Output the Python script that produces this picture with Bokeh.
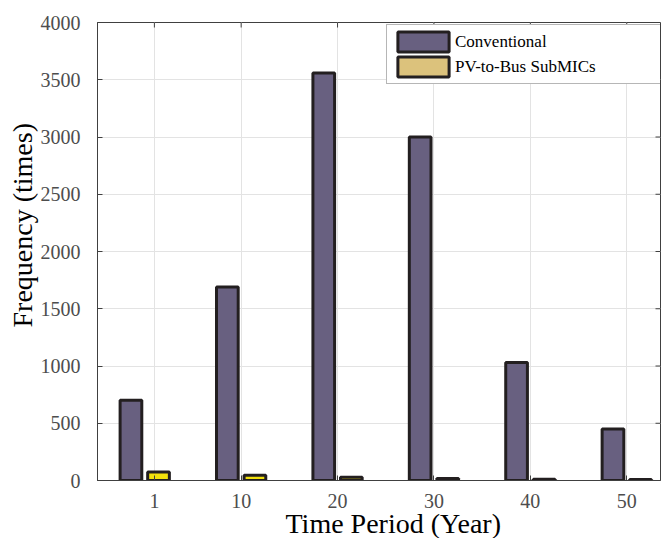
from bokeh.plotting import figure
from bokeh.models import (ColumnDataSource, FixedTicker, Range1d,
                          Legend, LegendItem, Title)
from bokeh.transform import dodge
from bokeh.embed import file_html
from bokeh.resources import INLINE

# ---- data ----
year_labels = ["1", "10", "20", "30", "40", "50"]
tick_positions = [1, 10, 20, 30, 40, 50]
group_positions = [0, 10, 20, 30, 40, 50]
conventional = [700, 1690, 3560, 3000, 1030, 450]
pv_to_bus = [75, 45, 28, 18, 12, 8]
y_tick_values = [0, 500, 1000, 1500, 2000, 2500, 3000, 3500, 4000]
series_names = ["Conventional", "PV-to-Bus SubMICs"]
x_title = "Time Period (Year)"
y_title = "Frequency (times)"

FONT = "Liberation Serif"
EDGE = "#231f20"
CONV_FILL = "#686080"
PV_FILL = "#f3e10c"
PV_LEGEND_FILL = "#dcc27c"
AXIS_COL = "#404040"
TICK_TEXT = "#4d4d4d"
GRID_COL = "#e3e3e3"

X0, X1 = -4.9, 53.5
Y0, Y1 = 0, 4000
W, H = 665, 538
ML, MT, MR, MB = 97, 22, 5, 58
FRAME_W, FRAME_H = W - ML - MR, H - MT - MB
TICK_PX = 5
XPP = (X1 - X0) / FRAME_W   # data units per pixel, x
YPP = (Y1 - Y0) / FRAME_H   # data units per pixel, y

src = ColumnDataSource(dict(x=group_positions, conv=conventional, pv=pv_to_bus))

p = figure(width=W, height=H, output_backend="svg", toolbar_location=None,
           x_range=Range1d(X0, X1), y_range=Range1d(Y0, Y1),
           min_border_left=ML, min_border_top=MT, min_border_right=MR,
           min_border_bottom=MB)
p.background_fill_color = "white"
p.border_fill_color = "white"
p.outline_line_color = AXIS_COL
p.outline_line_width = 1

# grid
p.xgrid.ticker = FixedTicker(ticks=tick_positions)
p.ygrid.ticker = FixedTicker(ticks=y_tick_values)
for g in (p.xgrid[0], p.ygrid[0]):
    g.grid_line_color = GRID_COL
    g.grid_line_width = 1

# mirrored ticks on top and right edges of the box
p.segment(x0=tick_positions, x1=tick_positions,
          y0=[Y1] * len(tick_positions), y1=[Y1 - TICK_PX * YPP] * len(tick_positions),
          line_color=AXIS_COL, line_width=1)
p.segment(x0=[X1] * len(y_tick_values), x1=[X1 - TICK_PX * XPP] * len(y_tick_values),
          y0=y_tick_values, y1=y_tick_values,
          line_color=AXIS_COL, line_width=1)

r_conv = p.vbar(x=dodge("x", -1.43, range=p.x_range), top="conv", width=2.25,
                bottom=0, source=src, fill_color=CONV_FILL, line_color=EDGE,
                line_width=3)
r_pv = p.vbar(x=dodge("x", 1.43, range=p.x_range), top="pv", width=2.25,
              bottom=0, source=src, fill_color=PV_FILL, line_color=EDGE,
              line_width=3)
# legend-only swatch for the second series (placed outside the visible range)
r_pv_leg = p.vbar(x=[X0 - 100], top=[0], width=1, fill_color=PV_LEGEND_FILL,
                  line_color=EDGE, line_width=3)

# axes
xa = p.xaxis[0]
xa.ticker = FixedTicker(ticks=tick_positions)
xa.major_label_overrides = {t: l for t, l in zip(tick_positions, year_labels)}
ya = p.yaxis[0]
ya.ticker = FixedTicker(ticks=y_tick_values)

for ax in (xa, ya):
    ax.axis_line_color = AXIS_COL
    ax.major_tick_line_color = AXIS_COL
    ax.major_tick_in = TICK_PX
    ax.major_tick_out = 0
    ax.minor_tick_line_color = None
    ax.major_label_text_font = FONT
    ax.major_label_text_font_size = "20px"
    ax.major_label_text_color = TICK_TEXT
xa.major_label_standoff = 13
ya.major_label_standoff = 17

# axis titles as side-panel titles (start-aligned, offset like the reference)
t_x = Title(text=x_title, align="left", offset=188, standoff=-10,
            text_font=FONT, text_font_size="28px", text_font_style="normal",
            text_color="black")
p.add_layout(t_x, "below")
t_y = Title(text=y_title, align="left", offset=153, standoff=0,
            text_font=FONT, text_font_size="28px", text_font_style="normal",
            text_color="black")
p.add_layout(t_y, "left")

legend = Legend(items=[LegendItem(label=series_names[0], renderers=[r_conv]),
                       LegendItem(label=series_names[1], renderers=[r_pv_leg])],
                location=(289, 396))
legend.label_text_font = FONT
legend.label_text_font_size = "17px"
legend.label_text_color = "black"
legend.glyph_width = 64
legend.glyph_height = 25
legend.label_height = 25
legend.label_width = 202
legend.label_standoff = -1
legend.padding = 4
legend.spacing = -1
legend.margin = 0
legend.border_line_color = "#6e6e6e"
legend.border_line_width = 1
legend.background_fill_color = "white"
legend.background_fill_alpha = 1
p.add_layout(legend, "center")

open("out.html", "w").write(file_html(p, INLINE))
